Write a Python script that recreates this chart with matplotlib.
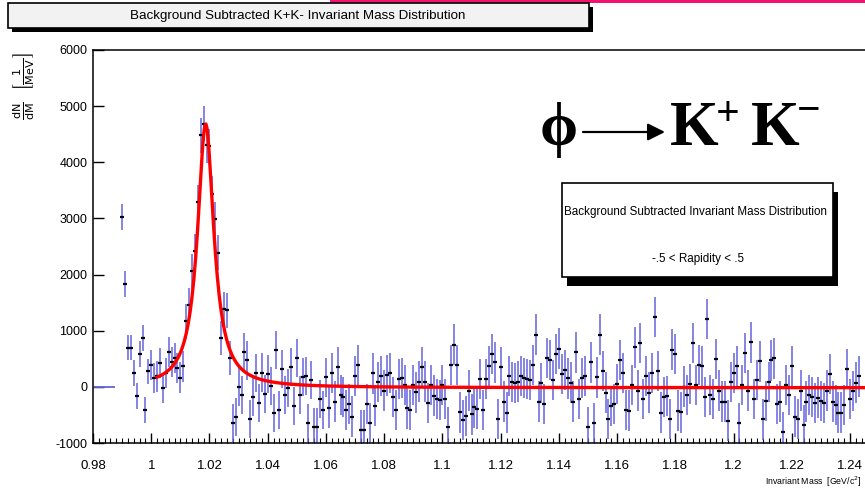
import numpy as np
import matplotlib.pyplot as plt
from matplotlib.patches import Rectangle
from matplotlib.ticker import MultipleLocator, FuncFormatter

plt.rcParams['font.family'] = ['Liberation Sans', 'DejaVu Sans']

# background subtracted K+K- pairs per 1 MeV bin, first bin at 0.990 GeV
first_bin = 0.990
bin_width = 0.001
counts = [
    # 0.990 - 1.011
    3020, 1825, 700, 700, 245, -170, 590, 870, -410, 275, 395, 155, 185, 425,
    -25, 245, 615, 440, 515, 335, 165, 365,
    # 1.012 - 1.027 (phi peak)
    1170, 1450, 2060, 2420, 3290, 4480, 4690, 4300, 4290, 3440, 2990, 2390,
    870, 1380, 1365, 515,
    # 1.028 - 1.039
    -650, -530, 5, -145, 620, 470, -570, -185, 245, -290, 255, -125,
    # 1.040 - 1.090
    233, 18, -459, 662, -411, 322, -149, -24, 352, -340, 507, -143, 173, 197,
    -650, 125, -710, -721, -221, -411, 167, -370, 245, -262, 352, -143, -179,
    -411, -304, -531, 197, 394, -769, -769, -304, -650, 239, -334, 89, 197,
    -66, 203, 245, -185, -411, 137, 155, 36, -382, -411, 36,
    # 1.091
    -100,
    # 1.092 - 1.142
    95, 352, 95, -292, 36, -155, -221, -233, 36, -221, -721, 394, 751, 394,
    -453, -590, -519, -66, -489, -364, -399, 143, -411, 137, 364, 590, 435,
    -572, 352, -262, -459, 197, 83, 66, 95, 197, 155, 137, 125, 394, 930,
    -262, 66, -304, 513, 483, 125, 590, 680, 233, 304,
    # 1.143
    150,
    # 1.144 - 1.194
    77, -262, 614, -221, 155, 197, -721, 435, -650, 167, 930, 286, -101, -572,
    -340, -304, 48, 483, 245, -411, -423, 36, 704, -66, 781, -221, 197, -101,
    245, 1246, 286, -459, -185, -161, -572, 662, 590, -423, -453, 6, -143, 48,
    781, 36, 388, 364, -185, 1211, -143, -221, 495,
    # 1.195 - 1.243
    -66, -262, -262, -602, 83, 245, 364, -650, 36, 602, -66, 793, -221, 125,
    453, -578, -250, 83, 471, 507, -310, -262, -799, 36, -143, 364, -531, -572,
    -66, -680, -262, -143, -179, -292, -191, -256, -292, -66, 233, -262, -322,
    -459, -459, -322, 316, -221, -77, 77, 185,
]
errors = [230] * 10 + [270] * 12 + [310] * 16 + [340] * 33 + [360] * 183

# empty bins below threshold
empty_bins = [0.981, 0.982, 0.983, 0.984, 0.985, 0.986, 0.987]

# Breit-Wigner + flat background fit
fit_mass = 1.0187
fit_width = 0.0068
fit_height = 4700
fit_bkg = -15
fit_lo, fit_hi = 1.002, 1.26

W, H = 865, 490


def fx(px):
    return px / W


def fy(py):
    return 1 - py / H


mass = first_bin + bin_width * np.arange(len(counts))

fig = plt.figure(figsize=(W / 100, H / 100), dpi=100, facecolor='w')
ax = fig.add_axes([fx(93), fy(443), fx(880) - fx(93), (443 - 50) / H])

ax.errorbar(mass, counts, yerr=errors, fmt='none', ecolor='#6464dc',
            elinewidth=1.1, zorder=2)
ax.plot(mass, counts, ls='none', marker='_', ms=3, mew=1.6, color='k', zorder=3)
ax.errorbar(empty_bins, np.zeros(len(empty_bins)), xerr=bin_width / 2,
            fmt='none', ecolor='#6464dc', elinewidth=1.3)

m = np.linspace(fit_lo, fit_hi, 800)
hw = fit_width / 2
bw = fit_height * hw ** 2 / ((m - fit_mass) ** 2 + hw ** 2) + fit_bkg
ax.plot(m, bw, color='red', lw=2.4, zorder=4)

ax.set_xlim(0.98, 0.98 + (880 - 93) / 2912.0)
ax.set_ylim(-1000, 6000)
ax.xaxis.set_major_locator(MultipleLocator(0.02))
ax.xaxis.set_minor_locator(MultipleLocator(0.002))
ax.yaxis.set_major_locator(MultipleLocator(1000))
ax.xaxis.set_major_formatter(FuncFormatter(lambda v, p: '%g' % round(v, 3)))
ax.yaxis.set_major_formatter(FuncFormatter(lambda v, p: '%d' % v))
ax.tick_params(axis='x', which='major', direction='in', length=7, width=1,
               pad=12, labelsize=9.5)
ax.tick_params(axis='x', which='minor', direction='in', length=3.5, width=0.8)
ax.tick_params(axis='y', which='major', direction='in', length=8, width=1,
               pad=4, labelsize=9)
for s in ax.spines.values():
    s.set_linewidth(1.1)

# axis titles
fig.text(fx(862), fy(482), 'Invariant Mass  [GeV/c$^2$]', fontsize=6.3,
         ha='right', va='center')
fig.text(fx(24), fy(53),
         r'$\frac{\mathrm{dN}}{\mathrm{dM}}\ \ \left[\frac{1}{\mathrm{MeV}}\right]$',
         rotation=90, ha='center', va='top', fontsize=11.5)

# pink strip along the top
fig.patches.append(Rectangle((fx(330), fy(3)), fx(865) - fx(330), 3 / H,
                             transform=fig.transFigure, facecolor='#f2136e',
                             edgecolor='none'))

# title box with shadow
fig.patches.append(Rectangle((fx(12), fy(32)), fx(581), 25 / H,
                             transform=fig.transFigure, facecolor='black',
                             edgecolor='none'))
fig.patches.append(Rectangle((fx(8), fy(28)), fx(581), 25 / H,
                             transform=fig.transFigure, facecolor='#f2f2f2',
                             edgecolor='black', lw=1.2))
fig.text(fx(298), fy(16), 'Background Subtracted K+K- Invariant Mass Distribution',
         ha='center', va='center', fontsize=9.6)

# info box with shadow
fig.patches.append(Rectangle((fx(567), fy(286)), fx(271), 94 / H,
                             transform=fig.transFigure, facecolor='black',
                             edgecolor='none', zorder=5))
fig.patches.append(Rectangle((fx(562), fy(277)), fx(271), 94 / H,
                             transform=fig.transFigure, facecolor='white',
                             edgecolor='black', lw=1.2, zorder=6))
fig.text(fx(696), fy(212), 'Background Subtracted Invariant Mass Distribution',
         ha='center', va='center', fontsize=8.4, zorder=7)
fig.text(fx(698), fy(259), '-.5 < Rapidity < .5',
         ha='center', va='center', fontsize=8.4, zorder=7)

# decay label
serif = ['Liberation Serif', 'DejaVu Serif']
fig.text(fx(540), fy(145), '\u03d5', family=serif, fontweight='bold',
         fontsize=44, ha='left', va='baseline')
ax.annotate('', xy=(fx(665), fy(132)), xytext=(fx(583), fy(132)),
            xycoords='figure fraction', textcoords='figure fraction',
            arrowprops=dict(arrowstyle='-|>', color='k', lw=1.6,
                            mutation_scale=26, shrinkA=0, shrinkB=0))
fig.text(fx(670), fy(145), 'K', family=serif, fontweight='bold',
         fontsize=45, ha='left', va='baseline')
fig.text(fx(716), fy(125), '+', family=serif, fontweight='bold',
         fontsize=30, ha='left', va='baseline')
fig.text(fx(751), fy(145), 'K', family=serif, fontweight='bold',
         fontsize=45, ha='left', va='baseline')
fig.text(fx(797), fy(121), '\u2212', family=serif, fontweight='bold',
         fontsize=30, ha='left', va='baseline')

fig.savefig('out.png', dpi=100)
